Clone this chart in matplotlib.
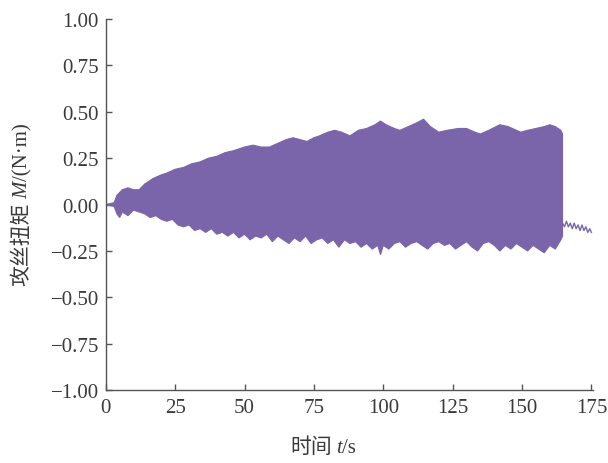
import numpy as np
import matplotlib
matplotlib.use("Agg")
import matplotlib.pyplot as plt

plt.rcParams['font.family'] = ['Liberation Serif', 'Noto Sans CJK SC']

# upper envelope of the torque signal
t_upper = [0, 3, 4, 6, 8, 10, 12, 14, 17, 20, 22, 25, 28, 31, 34, 37, 40, 43, 46,
           50, 53, 56, 59, 62, 65, 67.5, 70, 72.5, 75, 77, 80, 82.5, 85, 88, 91,
           94, 97, 99, 101, 104, 106, 109, 112, 114.5, 117, 120, 123, 127, 130,
           133, 135, 138, 142, 145, 149.5, 152, 155, 158, 160, 162, 164, 164.6]
m_upper = [0.0, 0.01, 0.05, 0.08, 0.09, 0.08, 0.08, 0.11, 0.14, 0.16, 0.17, 0.19,
           0.20, 0.22, 0.23, 0.25, 0.26, 0.28, 0.29, 0.31, 0.32, 0.31, 0.31, 0.33,
           0.35, 0.36, 0.35, 0.34, 0.36, 0.37, 0.39, 0.40, 0.39, 0.37, 0.40, 0.41,
           0.43, 0.45, 0.43, 0.41, 0.40, 0.42, 0.44, 0.46, 0.42, 0.39, 0.40, 0.41,
           0.41, 0.39, 0.38, 0.40, 0.43, 0.42, 0.39, 0.40, 0.41, 0.42, 0.43, 0.42,
           0.40, 0.38]

# lower envelope
t_lower = [0, 3, 4, 5, 6, 8, 10, 12, 14, 16, 18, 20, 22, 24, 26, 28, 30, 32, 34,
           36, 38, 40, 42, 44, 46, 48, 50, 52, 54, 56, 58, 60, 62, 64, 66, 68, 70,
           72, 74, 76, 78, 80, 82, 84, 86, 88, 90, 92, 94, 96, 98, 99, 100, 102,
           104, 106, 108, 110, 112, 114, 116, 118, 120, 122, 124, 126, 128, 130,
           132, 134, 136, 138, 140, 142, 144, 146, 148, 150, 152, 154, 156, 158,
           160, 162, 164, 164.6]
m_lower = [0.0, -0.01, -0.05, -0.07, -0.04, -0.06, -0.03, -0.04, -0.05, -0.07,
           -0.06, -0.08, -0.09, -0.08, -0.11, -0.12, -0.11, -0.14, -0.13, -0.15,
           -0.13, -0.16, -0.15, -0.17, -0.15, -0.18, -0.16, -0.19, -0.17, -0.18,
           -0.16, -0.20, -0.17, -0.19, -0.21, -0.18, -0.20, -0.17, -0.21, -0.19,
           -0.18, -0.21, -0.19, -0.23, -0.19, -0.21, -0.20, -0.23, -0.21, -0.24,
           -0.22, -0.27, -0.22, -0.24, -0.21, -0.20, -0.23, -0.21, -0.20, -0.22,
           -0.24, -0.21, -0.20, -0.22, -0.21, -0.24, -0.22, -0.20, -0.23, -0.25,
           -0.21, -0.20, -0.22, -0.25, -0.22, -0.24, -0.21, -0.23, -0.25, -0.22,
           -0.24, -0.26, -0.22, -0.24, -0.19, -0.17]

# small residual wiggle after the tap is withdrawn
t_tail = [164.6, 165.3, 166.0, 166.7, 167.4, 168.1, 168.8, 169.5, 170.2, 170.9,
          171.6, 172.3, 173.0, 173.7, 174.4, 175.0]
m_tail = [-0.10, -0.12, -0.09, -0.12, -0.10, -0.13, -0.10, -0.13, -0.11, -0.14,
          -0.11, -0.14, -0.12, -0.15, -0.13, -0.15]

x_ticks = [0, 25, 50, 75, 100, 125, 150, 175]
y_ticks = [-1.00, -0.75, -0.50, -0.25, 0.00, 0.25, 0.50, 0.75, 1.00]

color = '#7b65aa'
txt = '#3a3a3a'
W, H = 608, 464
FS = 15

fig = plt.figure(figsize=(W / 100, H / 100), dpi=100)
ax = fig.add_axes([0.174, 0.157, 0.801, 0.800])

xs = np.concatenate([t_upper, t_lower[::-1]])
ys = np.concatenate([m_upper, m_lower[::-1]])
ax.fill(xs, ys, color=color, lw=0.8, ec=color)
ax.plot([0, 3], [0, 0], color=color, lw=1.5)
ax.plot(t_tail, m_tail, color=color, lw=1.0)

ax.set_xlim(0, 175.5)
ax.set_ylim(-1.0, 1.0)
ax.set_xticks(x_ticks)
ax.set_yticks(y_ticks)
ax.set_yticklabels([f"{v:.2f}".replace('-', '\u2212') for v in y_ticks])

for s in ['top', 'right']:
    ax.spines[s].set_visible(False)
for s in ['left', 'bottom']:
    ax.spines[s].set_color('#555555')
    ax.spines[s].set_linewidth(1.0)

ax.tick_params(direction='in', length=4, width=1.0, colors='#555555',
               labelcolor=txt, labelsize=FS)
ax.tick_params(axis='x', pad=6)
ax.tick_params(axis='y', pad=5)


def label_pieces(pieces, cx, cy, vertical=False, gap=4):
    """Lay out text pieces of mixed fonts one after another (pixel coords)."""
    r = fig.canvas.get_renderer()
    objs = []
    for s, kw in pieces:
        t = fig.text(0, 0, s, ha='left', va='baseline', rotation=90 if vertical else 0,
                     rotation_mode='anchor', color=txt, fontsize=FS, **kw)
        objs.append(t)
    sizes = []
    for t in objs:
        bb = t.get_window_extent(renderer=r)
        sizes.append(bb.height if vertical else bb.width)
    total = sum(sizes) + gap
    pos = (cy if vertical else cx) - total / 2
    for i, (t, sz) in enumerate(zip(objs, sizes)):
        if vertical:
            t.set_position((cx / W, pos / H))
        else:
            t.set_position((pos / W, cy / H))
        pos += sz + (gap if i == 0 else 0)


cjk = dict(family=['Noto Sans CJK SC'], weight='light')
# x label, baseline ~453 px from top
label_pieces([('时间', cjk), ('t', dict(style='italic')), ('/s', {})],
             cx=323, cy=H - 453)
# y label, baseline ~ x=27 px, centred on the axes
label_pieces([('攻丝扭矩', cjk), ('M', dict(style='italic')), ('/(N·m)', {})],
             cx=27, cy=H - 205, vertical=True)

fig.savefig('out.png', dpi=100)
